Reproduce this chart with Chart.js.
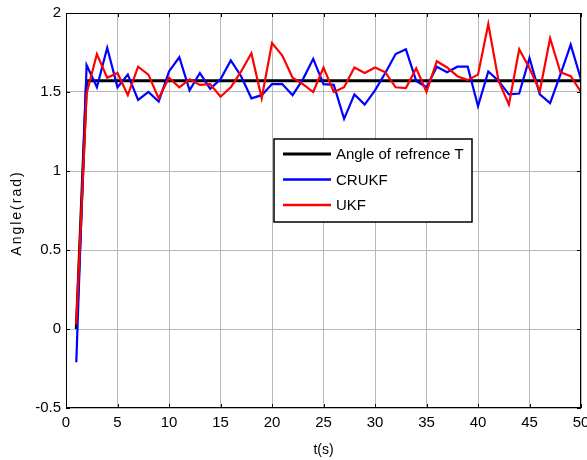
<!DOCTYPE html>
<html>
<head>
<meta charset="utf-8">
<script src="https://cdn.jsdelivr.net/npm/chart.js@4"></script>
<style>
  body { margin: 0; background: #fff; }
  canvas { display: block; }
</style>
</head>
<body>
<canvas id="angleChart" width="587" height="460"></canvas>
<script>
// time steps t(s)
const tValues = [1,2,3,4,5,6,7,8,9,10,11,12,13,14,15,16,17,18,19,20,
  21,22,23,24,25,26,27,28,29,30,31,32,33,34,35,36,37,38,39,40,
  41,42,43,44,45,46,47,48,49,50];

// reference angle (rad)
const refValues = [0,1.5708,1.5708,1.5708,1.5708,1.5708,1.5708,1.5708,1.5708,1.5708,
  1.5708,1.5708,1.5708,1.5708,1.5708,1.5708,1.5708,1.5708,1.5708,1.5708,
  1.5708,1.5708,1.5708,1.5708,1.5708,1.5708,1.5708,1.5708,1.5708,1.5708,
  1.5708,1.5708,1.5708,1.5708,1.5708,1.5708,1.5708,1.5708,1.5708,1.5708,
  1.5708,1.5708,1.5708,1.5708,1.5708,1.5708,1.5708,1.5708,1.5708,1.5708];

const crukfValues = [-0.21,1.67,1.53,1.78,1.53,1.61,1.45,1.50,1.44,1.63,
  1.72,1.51,1.62,1.52,1.58,1.70,1.60,1.46,1.48,1.55,
  1.55,1.48,1.58,1.71,1.55,1.545,1.33,1.485,1.42,1.51,
  1.62,1.74,1.77,1.57,1.53,1.66,1.625,1.66,1.66,1.41,
  1.63,1.57,1.485,1.49,1.715,1.485,1.43,1.61,1.80,1.58];

const ukfValues = [0.03,1.49,1.74,1.59,1.62,1.48,1.66,1.61,1.46,1.59,
  1.53,1.58,1.545,1.55,1.47,1.53,1.63,1.745,1.46,1.81,
  1.73,1.59,1.55,1.50,1.655,1.50,1.53,1.655,1.62,1.655,
  1.625,1.53,1.525,1.65,1.50,1.695,1.655,1.60,1.575,1.61,
  1.93,1.57,1.42,1.77,1.65,1.505,1.84,1.625,1.60,1.50];

const yTickLabels = {"-0.5": "-0.5", "0": "0", "0.5": "0.5", "1": "1", "1.5": "1.5", "2": "2"};

const seriesNames = ["Angle of refrence T", "CRUKF", "UKF"];
const seriesColors = ["#000000", "#0000ff", "#ff0000"];

const FONT = "'Liberation Sans', Arial, sans-serif";

function toPoints(ys) {
  return tValues.map((t, i) => ({x: t, y: ys[i]}));
}

// box, inward ticks, axis titles and legend like matlab
const matlabFrame = {
  id: "matlabFrame",
  afterDatasetsDraw(chart) {
    const ctx = chart.ctx;
    const a = chart.chartArea;
    const xs = chart.scales.x;
    const ys = chart.scales.y;
    ctx.save();

    ctx.strokeStyle = "#000";
    ctx.lineWidth = 1;
    ctx.strokeRect(a.left + 0.5, a.top + 0.5, a.right - a.left - 1, a.bottom - a.top - 1);

    ctx.beginPath();
    xs.ticks.forEach(tk => {
      const px = Math.round(xs.getPixelForValue(tk.value)) + 0.5;
      ctx.moveTo(px, a.bottom); ctx.lineTo(px, a.bottom - 4);
      ctx.moveTo(px, a.top); ctx.lineTo(px, a.top + 4);
    });
    ys.ticks.forEach(tk => {
      const py = Math.round(ys.getPixelForValue(tk.value)) + 0.5;
      ctx.moveTo(a.left, py); ctx.lineTo(a.left + 4, py);
      ctx.moveTo(a.right, py); ctx.lineTo(a.right - 4, py);
    });
    ctx.stroke();

    // axis titles
    ctx.fillStyle = "#000";
    ctx.font = "14px " + FONT;
    ctx.textAlign = "center";
    ctx.textBaseline = "middle";
    ctx.fillText("t(s)", (a.left + a.right) / 2, 450);
    ctx.save();
    ctx.translate(17, 214);
    ctx.rotate(-Math.PI / 2);
    ctx.letterSpacing = "2px";
    ctx.fillText("Angle(rad)", 1, 0);
    ctx.restore();

    // legend
    const lx = a.left + 208, ly = a.top + 126, lw = 198, lh = 83;
    ctx.fillStyle = "#fff";
    ctx.fillRect(lx, ly, lw, lh);
    ctx.lineWidth = 1.5;
    ctx.strokeStyle = "#000";
    ctx.strokeRect(lx, ly, lw, lh);
    ctx.font = "15px " + FONT;
    ctx.textAlign = "left";
    seriesNames.forEach((name, i) => {
      const y = ly + 15 + i * 25.5;
      ctx.strokeStyle = seriesColors[i];
      ctx.lineWidth = i === 0 ? 3 : 2.5;
      ctx.beginPath();
      ctx.moveTo(lx + 9, y);
      ctx.lineTo(lx + 57, y);
      ctx.stroke();
      ctx.fillStyle = "#000";
      ctx.fillText(name, lx + 62, y + 1);
    });
    ctx.restore();
  }
};

new Chart("angleChart", {
  type: "line",
  data: {
    datasets: [{
      label: seriesNames[0],
      data: toPoints(refValues),
      borderColor: seriesColors[0],
      borderWidth: 3,
      order: 3
    }, {
      label: seriesNames[1],
      data: toPoints(crukfValues),
      borderColor: seriesColors[1],
      borderWidth: 2.2,
      order: 2
    }, {
      label: seriesNames[2],
      data: toPoints(ukfValues),
      borderColor: seriesColors[2],
      borderWidth: 2.2,
      order: 1
    }]
  },
  options: {
    responsive: false,
    animation: false,
    events: [],
    layout: {padding: {top: 13, right: 6, left: 0, bottom: 0}},
    elements: {
      point: {radius: 0},
      line: {tension: 0, fill: false}
    },
    plugins: {
      legend: {display: false},
      tooltip: {enabled: false}
    },
    scales: {
      x: {
        type: "linear",
        min: 0,
        max: 50,
        ticks: {
          stepSize: 5,
          color: "#000",
          padding: 6,
          maxRotation: 0,
          font: {family: FONT, size: 15}
        },
        grid: {color: "#b8b8b8", drawTicks: false},
        border: {display: false},
        afterFit(scale) {
          scale.height = 52;
          scale.paddingLeft = 0;
          scale.paddingRight = 0;
        }
      },
      y: {
        min: -0.5,
        max: 2,
        ticks: {
          stepSize: 0.5,
          color: "#000",
          padding: 5,
          font: {family: FONT, size: 15},
          callback: v => yTickLabels[String(v)] ?? String(v)
        },
        grid: {color: "#b8b8b8", drawTicks: false},
        border: {display: false},
        afterFit(scale) {
          scale.width = 66;
          scale.paddingTop = 0;
          scale.paddingBottom = 0;
        }
      }
    }
  },
  plugins: [matlabFrame]
});
</script>
</body>
</html>
